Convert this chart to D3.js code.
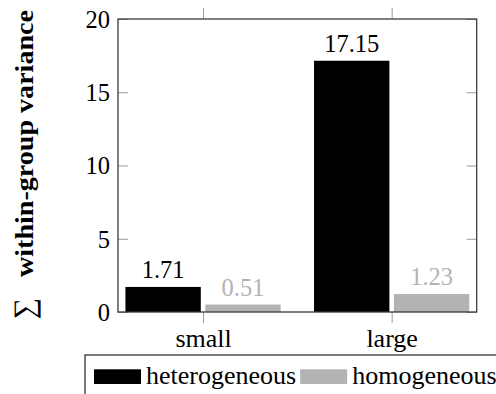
<!DOCTYPE html>
<html>
<head>
<meta charset="utf-8">
<script src="https://cdn.jsdelivr.net/npm/d3@7"></script>
<style>
  html, body { margin: 0; padding: 0; background: #fff; }
  svg { display: block; }
  svg text { font-family: "Liberation Serif", LiberationSerif, Tinos, "Times New Roman", Times, "Nimbus Roman", "Nimbus Roman No9 L", "Noto Serif", FreeSerif, "DejaVu Serif", Georgia, serif !important; }
</style>
</head>
<body>
<svg id="chart" width="496" height="394"></svg>
<script>
// Sum of within-group variance per group size, split by group composition
const categories = ["small", "large"];
const seriesNames = ["heterogeneous", "homogeneous"];
const heterogeneous = [1.71, 17.15];
const homogeneous = [0.51, 1.23];
const yTicks = [0, 5, 10, 15, 20];
const seriesColors = ["#000000", "#b3b3b3"];

const seriesValues = [heterogeneous, homogeneous];

const svg = d3.select("#chart");
const plot = { left: 118, right: 476.7, top: 19, bottom: 312 };

const x = d3.scalePoint()
  .domain(categories)
  .range([plot.left, plot.right])
  .padding(0.451);

const sub = d3.scaleBand()
  .domain(seriesNames)
  .range([-0.4115 * x.step(), 0.4115 * x.step()])
  .paddingInner(0.0564);

const y = d3.scaleLinear().domain([0, 20]).range([plot.bottom, plot.top]);

const tickColor = "#9a9a9a";
const axisColor = "#3a3a3a";

// bars
seriesNames.forEach((name, si) => {
  svg.append("g")
    .selectAll("rect")
    .data(categories.map((c, i) => ({ c, v: seriesValues[si][i] })))
    .join("rect")
    .attr("x", d => x(d.c) + sub(name))
    .attr("y", d => y(d.v))
    .attr("width", sub.bandwidth())
    .attr("height", d => y(0) - y(d.v))
    .attr("fill", seriesColors[si]);
});

// value labels
seriesNames.forEach((name, si) => {
  svg.append("g")
    .selectAll("text")
    .data(categories.map((c, i) => ({ c, v: seriesValues[si][i] })))
    .join("text")
    .attr("x", d => x(d.c) + sub(name) + sub.bandwidth() / 2)
    .attr("y", d => y(d.v) - 9)
    .attr("text-anchor", "middle")
    .attr("font-size", "24.5px")
    .attr("fill", si === 0 ? "#000" : seriesColors[si])
    .text(d => d.v.toFixed(2));
});

function styleAxis(g) {
  g.attr("font-family", null);
  g.select(".domain").remove();
  g.selectAll(".tick line").attr("stroke", tickColor).attr("stroke-width", 1);
  g.selectAll("text").attr("fill", "#000");
}

// left axis with inward ticks
svg.append("g")
  .attr("transform", `translate(${plot.left},0)`)
  .call(d3.axisLeft(y).tickValues(yTicks).tickSizeInner(-10).tickSizeOuter(0).tickPadding(8))
  .call(styleAxis)
  .call(g => g.selectAll("text").attr("font-size", "24.5px").attr("dy", "0.34em"));

// right axis ticks
svg.append("g")
  .attr("transform", `translate(${plot.right},0)`)
  .call(d3.axisRight(y).tickValues(yTicks).tickSizeInner(-10).tickSizeOuter(0).tickFormat(""))
  .call(styleAxis);

// bottom axis with outward ticks
svg.append("g")
  .attr("transform", `translate(0,${plot.bottom})`)
  .call(d3.axisBottom(x).tickSizeInner(11).tickSizeOuter(0))
  .call(styleAxis)
  .call(g => g.selectAll("text").attr("font-size", "26px").attr("y", 34.7).attr("dy", 0));

// top axis ticks
svg.append("g")
  .attr("transform", `translate(0,${plot.top})`)
  .call(d3.axisTop(x).tickSizeInner(11).tickSizeOuter(0).tickFormat(""))
  .call(styleAxis);

// frame
svg.append("rect")
  .attr("x", plot.left)
  .attr("y", plot.top)
  .attr("width", plot.right - plot.left)
  .attr("height", plot.bottom - plot.top)
  .attr("fill", "none")
  .attr("stroke", axisColor)
  .attr("stroke-width", 1.3);

// y-axis title
svg.append("text")
  .attr("transform", "translate(33,143.5) rotate(-90)")
  .attr("text-anchor", "middle")
  .attr("font-size", "26px")
  .attr("font-weight", "bold")
  .attr("textLength", 267)
  .attr("lengthAdjust", "spacingAndGlyphs")
  .text("within-group variance");

svg.append("text")
  .attr("transform", "translate(34,308.5) rotate(-90)")
  .attr("text-anchor", "middle")
  .attr("font-size", "30px")
  .text("∑");

// legend
const legend = svg.append("g");
legend.append("rect")
  .attr("x", 85)
  .attr("y", 355)
  .attr("width", 440)
  .attr("height", 60)
  .attr("fill", "#fff")
  .attr("stroke", "#222")
  .attr("stroke-width", 1.2);

let lx = 94;
seriesNames.forEach((name, si) => {
  legend.append("rect")
    .attr("x", lx)
    .attr("y", 369.3)
    .attr("width", 47)
    .attr("height", 14.7)
    .attr("fill", seriesColors[si]);
  const t = legend.append("text")
    .attr("x", lx + 52)
    .attr("y", 384)
    .attr("font-size", "26px")
    .attr("fill", "#000")
    .text(name);
  lx = lx + 52 + t.node().getComputedTextLength() + 4;
});
</script>
</body>
</html>
